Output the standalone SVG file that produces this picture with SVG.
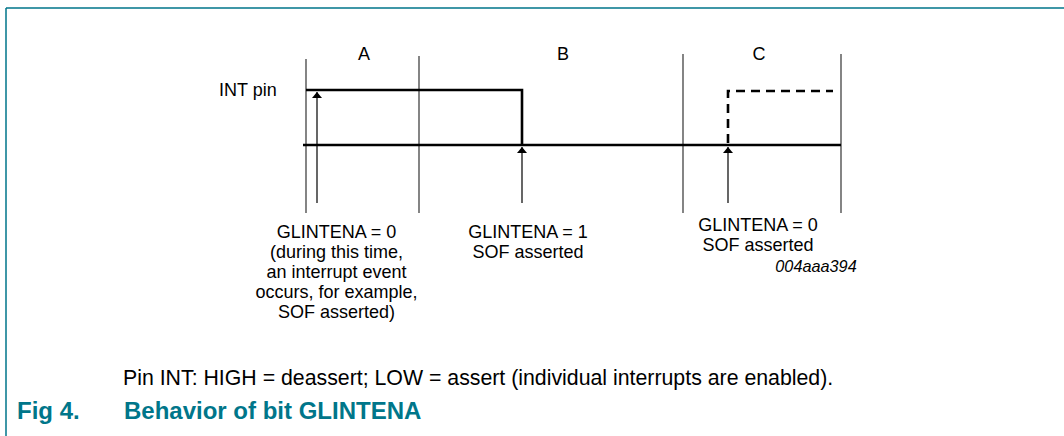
<svg xmlns="http://www.w3.org/2000/svg" width="1064" height="436" viewBox="0 0 1064 436">
<style>
.frame{stroke:#00768a;stroke-width:1.5;fill:none}
.div{stroke:#333;stroke-width:1.2;fill:none}
.sig{stroke:#000;stroke-width:2.6;fill:none}
.dash{stroke:#000;stroke-width:2.6;fill:none;stroke-dasharray:9 6}
.arr{stroke:#000;stroke-width:1.2;fill:none;marker-end:url(#ah)}
.t{font-family:"Liberation Sans",Arial,sans-serif;font-size:17.5px;fill:#000}
.c{text-anchor:middle}
.i{font-style:italic;font-size:15.8px}
.cap{font-family:"Liberation Sans",Arial,sans-serif;font-size:21.3px;fill:#000}
.fig{font-family:"Liberation Sans",Arial,sans-serif;font-size:24px;font-weight:bold;fill:#00768a}
</style>
<defs>
<marker id="ah" viewBox="0 0 6 10" refX="6" refY="5" markerWidth="6" markerHeight="10" markerUnits="userSpaceOnUse" orient="auto">
<path d="M0,0 L6,5 L0,10 Z" fill="#000"/>
</marker>
</defs>
<g id="frame">
<path class="frame" d="M6,8 H1064 M6,8 V436"/>
</g>
<g id="dividers">
<line class="div" x1="306" y1="59" x2="306" y2="213" stroke="#666"/>
<line class="div" x1="419" y1="56" x2="419" y2="213"/>
<line class="div" x1="683" y1="54" x2="683" y2="213"/>
<line class="div" x1="841" y1="54" x2="841" y2="213" stroke="#666"/>
</g>
<g id="signals">
<polyline class="sig" points="306,90 522,90 522,145"/>
<line class="sig" x1="303" y1="145" x2="841" y2="145"/>
<polyline class="dash" points="728,143 728,91 833,91"/>
</g>
<g id="connectors">
<line class="arr" x1="317" y1="203" x2="317" y2="92"/>
<line class="arr" x1="522" y1="203" x2="522" y2="147"/>
<line class="arr" x1="728" y1="203" x2="728" y2="147"/>
</g>
<g id="labels">
<text class="t c" transform="translate(364,60) scale(1.03,1)">A</text>
<text class="t c" transform="translate(563,60) scale(1.03,1)">B</text>
<text class="t c" transform="translate(759,60) scale(1.03,1)">C</text>
<text class="t" transform="translate(219,96) scale(1.03,1)">INT pin</text>
</g>
<g id="note-A">
<text class="t c" transform="translate(336.5,238) scale(1.03,1)">GLINTENA = 0</text>
<text class="t c" transform="translate(336.5,258) scale(1.03,1)">(during this time,</text>
<text class="t c" transform="translate(336.5,278) scale(1.03,1)">an interrupt event</text>
<text class="t c" transform="translate(336.5,298) scale(1.03,1)">occurs, for example,</text>
<text class="t c" transform="translate(336.5,318) scale(1.03,1)">SOF asserted)</text>
</g>
<g id="note-B">
<text class="t c" transform="translate(528,238) scale(1.03,1)">GLINTENA = 1</text>
<text class="t c" transform="translate(528,258) scale(1.03,1)">SOF asserted</text>
</g>
<g id="note-C">
<text class="t c" transform="translate(758,231) scale(1.03,1)">GLINTENA = 0</text>
<text class="t c" transform="translate(758,251) scale(1.03,1)">SOF asserted</text>
</g>
<g id="ref">
<text class="t c i" transform="translate(816,272) scale(1.03,1)">004aaa394</text>
</g>
<g id="caption">
<text class="cap" x="123" y="385">Pin INT: HIGH = deassert; LOW = assert (individual interrupts are enabled).</text>
<text class="fig" x="17" y="419">Fig 4.</text>
<text class="fig" x="124" y="419">Behavior of bit GLINTENA</text>
</g>
</svg>
